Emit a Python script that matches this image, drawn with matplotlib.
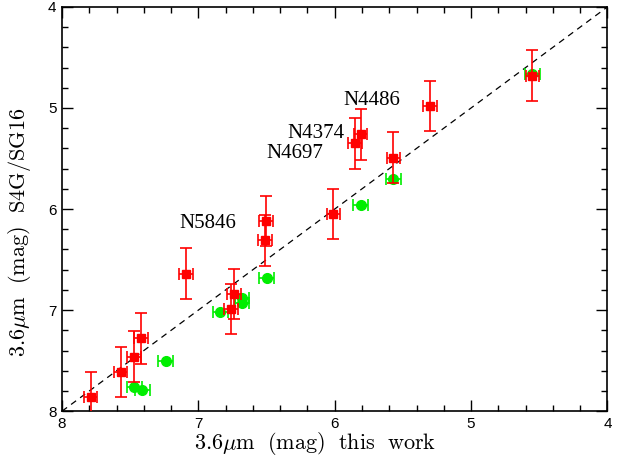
import matplotlib
matplotlib.use("Agg")
import matplotlib.pyplot as plt
from matplotlib.ticker import MultipleLocator

# 3.6um magnitudes: this work (x) vs S4G/SG16 (y)
red_x = [7.79, 7.57, 7.47, 7.42, 7.09, 6.74, 6.76, 6.51, 6.505, 6.01, 5.85, 5.81, 5.57, 5.30, 4.55]
red_y = [7.86, 7.61, 7.46, 7.28, 6.64, 6.84, 6.99, 6.31, 6.12, 6.05, 5.35, 5.26, 5.49, 4.98, 4.68]
red_xerr = 0.05
red_yerr = 0.25

green_x = [7.24, 7.47, 7.41, 6.84, 6.68, 6.68, 6.50, 5.81, 5.57, 4.55]
green_y = [7.50, 7.76, 7.79, 7.02, 6.88, 6.93, 6.68, 5.96, 5.70, 4.66]
green_xerr = 0.055

labels = ["N4486", "N4374", "N4697", "N5846"]
label_x = [5.73, 6.14, 6.29, 6.93]
label_y = [4.93, 5.25, 5.45, 6.14]

plt.rcParams["mathtext.fontset"] = "cm"

fig = plt.figure(figsize=(6.24, 4.62), dpi=100)
ax = fig.add_axes([0.0994, 0.110, 0.874, 0.875])

# y = x reference
ax.plot([8, 4], [8, 4], ls=(0, (5, 4)), color="black", lw=0.9, zorder=1)

ax.errorbar(green_x, green_y, xerr=green_xerr, fmt="o", color="#00ee00",
            ecolor="#00ee00", ms=7, elinewidth=1.2, capsize=4, capthick=1.2, zorder=2)
ax.errorbar(red_x, red_y, xerr=red_xerr, yerr=red_yerr, fmt="s", color="red",
            ecolor="red", ms=5.5, elinewidth=1.2, capsize=4.5, capthick=1.2, zorder=3)

for t, x, y in zip(labels, label_x, label_y):
    ax.text(x, y, t, fontsize=15, family="Liberation Serif", ha="center", va="center")

ax.set_xlim(8, 4)
ax.set_ylim(8, 4)
ax.xaxis.set_major_locator(MultipleLocator(1))
ax.xaxis.set_minor_locator(MultipleLocator(0.2))
ax.yaxis.set_major_locator(MultipleLocator(1))
ax.yaxis.set_minor_locator(MultipleLocator(0.2))
ax.tick_params(which="both", direction="in", top=True, right=True, width=1)
ax.tick_params(which="major", length=8, labelsize=11, pad=4)
ax.tick_params(which="minor", length=4)
for lab in ax.get_xticklabels() + ax.get_yticklabels():
    lab.set_family("Liberation Sans")
for s in ax.spines.values():
    s.set_linewidth(1.2)

ax.set_xlabel(r"$\mathrm{3.6}\mu\mathrm{m\ \ (mag)\ \ this\ \ work}$", fontsize=16)
ax.set_ylabel(r"$\mathrm{3.6}\mu\mathrm{m\ \ (mag)\ \ S4G/SG16}$", fontsize=16)
ax.xaxis.set_label_coords(0.464, -0.047)
ax.yaxis.set_label_coords(-0.053, 0.443)

fig.savefig("out.png", dpi=100)
